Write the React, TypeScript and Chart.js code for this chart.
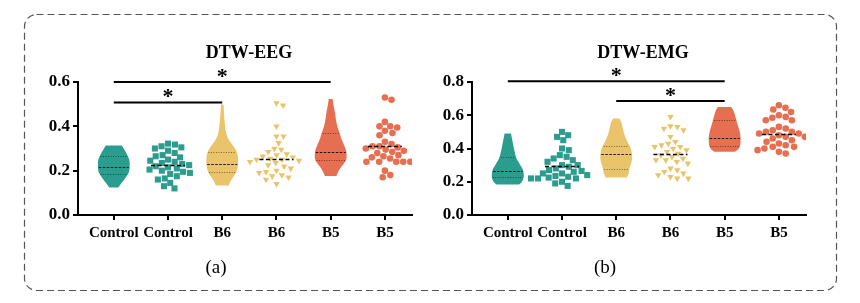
import React, { useEffect, useRef } from "react";
import { Chart, registerables } from "chart.js";
Chart.register(...registerables);

// ---------- data ----------
const categories = ["Control", "Control", "B6", "B6", "B5", "B5"];
const eegTicks = [0, 0.2, 0.4, 0.6];
const emgTicks = [0, 0.2, 0.4, 0.6, 0.8];

// violin density profiles: [value, relative width]
const eegControlViolin = [[0.313, 0.5], [0.3, 0.62], [0.28, 0.78], [0.26, 0.92], [0.245, 0.99], [0.22, 1.0], [0.195, 0.97], [0.175, 0.8], [0.155, 0.6], [0.14, 0.44], [0.124, 0.28]];
const eegB6Violin = [[0.498, 0.08], [0.47, 0.1], [0.43, 0.14], [0.39, 0.19], [0.36, 0.28], [0.34, 0.4], [0.32, 0.6], [0.3, 0.8], [0.285, 0.92], [0.26, 0.99], [0.23, 1.0], [0.2, 0.93], [0.18, 0.78], [0.16, 0.58], [0.145, 0.46], [0.133, 0.4]];
const eegB5Violin = [[0.523, 0.12], [0.5, 0.16], [0.475, 0.24], [0.445, 0.3], [0.415, 0.36], [0.39, 0.46], [0.37, 0.56], [0.345, 0.66], [0.324, 0.78], [0.305, 0.9], [0.285, 0.99], [0.265, 1.0], [0.249, 0.98], [0.235, 0.86], [0.219, 0.68], [0.2, 0.5], [0.176, 0.36]];
const emgControlViolin = [[0.49, 0.2], [0.47, 0.24], [0.44, 0.3], [0.41, 0.36], [0.38, 0.43], [0.35, 0.5], [0.33, 0.6], [0.31, 0.72], [0.29, 0.86], [0.27, 0.96], [0.25, 1.0], [0.225, 1.0], [0.205, 0.93], [0.19, 0.8], [0.184, 0.7]];
const emgB6Violin = [[0.58, 0.2], [0.56, 0.32], [0.53, 0.4], [0.5, 0.46], [0.47, 0.56], [0.44, 0.7], [0.42, 0.82], [0.39, 0.95], [0.36, 1.0], [0.33, 0.99], [0.3, 0.9], [0.28, 0.82], [0.26, 0.8], [0.24, 0.74], [0.226, 0.66]];
const emgB5Violin = [[0.65, 0.42], [0.63, 0.55], [0.6, 0.65], [0.57, 0.73], [0.54, 0.82], [0.51, 0.92], [0.48, 0.99], [0.45, 1.0], [0.42, 0.98], [0.4, 0.9], [0.39, 0.8], [0.38, 0.64]];

// violin quartiles [Q1, median, Q3]
const eegControlQuart = [0.187, 0.217, 0.264];
const eegB6Quart = [0.193, 0.231, 0.284];
const eegB5Quart = [0.246, 0.284, 0.37];
const emgControlQuart = [0.226, 0.262, 0.35];
const emgB6Quart = [0.274, 0.364, 0.415];
const emgB5Quart = [0.418, 0.464, 0.574];

// scatter values
const eegControlPoints = [0.322, 0.318, 0.31, 0.305, 0.3, 0.29, 0.28, 0.27, 0.265, 0.26, 0.25, 0.245, 0.24, 0.235, 0.23, 0.225, 0.22, 0.215, 0.21, 0.205, 0.2, 0.195, 0.19, 0.185, 0.175, 0.165, 0.16, 0.145, 0.13, 0.12];
const eegB6Points = [0.505, 0.495, 0.4, 0.355, 0.355, 0.325, 0.3, 0.295, 0.285, 0.275, 0.27, 0.265, 0.26, 0.255, 0.25, 0.25, 0.245, 0.24, 0.235, 0.225, 0.22, 0.21, 0.2, 0.195, 0.19, 0.18, 0.175, 0.17, 0.16, 0.14];
const eegB5Points = [0.53, 0.52, 0.42, 0.4, 0.4, 0.395, 0.38, 0.37, 0.36, 0.33, 0.32, 0.31, 0.31, 0.305, 0.3, 0.295, 0.29, 0.285, 0.28, 0.27, 0.265, 0.26, 0.255, 0.24, 0.24, 0.24, 0.24, 0.24, 0.2, 0.18, 0.17];
const emgControlPoints = [0.5, 0.48, 0.47, 0.45, 0.4, 0.39, 0.36, 0.35, 0.34, 0.33, 0.32, 0.3, 0.3, 0.29, 0.28, 0.27, 0.265, 0.26, 0.25, 0.25, 0.24, 0.235, 0.23, 0.225, 0.22, 0.22, 0.22, 0.2, 0.19, 0.175];
const emgB6Points = [0.59, 0.535, 0.53, 0.52, 0.51, 0.47, 0.44, 0.43, 0.42, 0.41, 0.41, 0.4, 0.39, 0.38, 0.37, 0.36, 0.35, 0.34, 0.33, 0.33, 0.32, 0.31, 0.28, 0.27, 0.26, 0.25, 0.24, 0.23, 0.22, 0.22];
const emgB5Points = [0.66, 0.645, 0.635, 0.62, 0.6, 0.59, 0.585, 0.57, 0.57, 0.53, 0.52, 0.51, 0.5, 0.5, 0.49, 0.49, 0.48, 0.47, 0.47, 0.46, 0.45, 0.44, 0.43, 0.42, 0.41, 0.41, 0.4, 0.39, 0.38, 0.37];

// scatter centre lines
const eegPointLines = [0.225, 0.252, 0.31];
const emgPointLines = [0.297, 0.367, 0.49];

// significance brackets: [from category, to category, level]
const eegSig = [[0, 4, 0.6], [0, 2, 0.508]];
const emgSig = [[0, 4, 0.804], [2, 4, 0.686]];

// ---------- styling ----------
const TEAL = "#2A9D8F";
const GOLD = "#E9C46A";
const CORAL = "#E76F51";
const SERIF = '"Times New Roman", "Liberation Serif", "DejaVu Serif", serif';
const X_MIN = -0.66;
const X_MAX = 5.5;
const PLOT_W = 334;
const PLOT_H = 133;
const HALF_VIOLIN = 16;

type Violin = { cat: number; profile: number[][]; quart: number[]; color: string };
type Swarm = { cat: number; values: number[]; line: number; color: string; style: string; radius: number; rotation: number };

function beeswarm(values: number[], pxPerUnit: number, d: number): number[] {
  const order = values.map((_, i) => i).sort((a, b) => values[b] - values[a]);
  const placed: { x: number; y: number }[] = [];
  const out = new Array(values.length).fill(0);
  for (const i of order) {
    const y = values[i] * pxPerUnit;
    const cands = [0];
    for (const p of placed) {
      const dy = Math.abs(p.y - y);
      if (dy < d) {
        const dx = Math.sqrt(d * d - dy * dy);
        cands.push(p.x + dx, p.x - dx);
      }
    }
    cands.sort((a, b) => Math.abs(a) - Math.abs(b));
    let chosen = 0;
    for (const c of cands) {
      if (placed.every((p) => (p.x - c) ** 2 + (p.y - y) ** 2 >= d * d - 0.01)) {
        chosen = c;
        break;
      }
    }
    placed.push({ x: chosen, y });
    out[i] = chosen;
  }
  return out;
}

function widthAt(profile: number[][], v: number): number {
  for (let i = 0; i < profile.length - 1; i++) {
    const [a, wa] = profile[i];
    const [b, wb] = profile[i + 1];
    if (v <= a && v >= b) {
      const t = (a - v) / (a - b || 1);
      return wa + (wb - wa) * t;
    }
  }
  return 0;
}

function smoothTo(ctx: CanvasRenderingContext2D, P: { x: number; y: number }[]) {
  for (let i = 1; i < P.length - 1; i++) {
    const mx = (P[i].x + P[i + 1].x) / 2;
    const my = (P[i].y + P[i + 1].y) / 2;
    ctx.quadraticCurveTo(P[i].x, P[i].y, mx, my);
  }
  ctx.lineTo(P[P.length - 1].x, P[P.length - 1].y);
}

function makeDecor(cfg: any) {
  return {
    id: "decor",
    beforeDatasetsDraw(chart: any) {
      const ctx: CanvasRenderingContext2D = chart.ctx;
      const xs = chart.scales.x;
      const ys = chart.scales.y;
      const area = chart.chartArea;
      ctx.save();
      for (const v of cfg.violins as Violin[]) {
        const cx = xs.getPixelForValue(v.cat);
        const pts = v.profile.map(([val, w]) => ({ y: ys.getPixelForValue(val), w: w * HALF_VIOLIN }));
        const right = pts.map((p) => ({ x: cx + p.w, y: p.y }));
        const left = pts.map((p) => ({ x: cx - p.w, y: p.y })).reverse();
        ctx.beginPath();
        ctx.moveTo(left[left.length - 1].x, left[left.length - 1].y);
        ctx.lineTo(right[0].x, right[0].y);
        smoothTo(ctx, right);
        ctx.lineTo(left[0].x, left[0].y);
        smoothTo(ctx, left);
        ctx.closePath();
        ctx.fillStyle = v.color;
        ctx.fill();
        v.quart.forEach((q, qi) => {
          const w = widthAt(v.profile, q) * HALF_VIOLIN - 1;
          const y = Math.round(ys.getPixelForValue(q)) + 0.5;
          ctx.beginPath();
          ctx.moveTo(cx - w, y);
          ctx.lineTo(cx + w, y);
          if (qi === 1) {
            ctx.setLineDash([2.5, 1.5]);
            ctx.strokeStyle = "rgba(0,0,0,0.85)";
          } else {
            ctx.setLineDash([1, 1.5]);
            ctx.strokeStyle = "rgba(0,0,0,0.5)";
          }
          ctx.lineWidth = 1;
          ctx.stroke();
        });
      }
      ctx.setLineDash([]);
      for (const [a, b, lvl] of cfg.sig as number[][]) {
        const x1 = xs.getPixelForValue(a);
        const x2 = xs.getPixelForValue(b);
        const y = ys.getPixelForValue(lvl);
        ctx.beginPath();
        ctx.moveTo(x1, y);
        ctx.lineTo(x2, y);
        ctx.lineWidth = 2;
        ctx.strokeStyle = "#000";
        ctx.stroke();
        ctx.fillStyle = "#000";
        ctx.font = `bold 22px ${SERIF}`;
        ctx.textAlign = "center";
        ctx.textBaseline = "alphabetic";
        ctx.fillText("*", (x1 + x2) / 2, y + 1);
      }
      ctx.fillStyle = "#000";
      ctx.font = `bold 18px ${SERIF}`;
      ctx.textAlign = "center";
      ctx.textBaseline = "middle";
      ctx.fillText(cfg.title, (area.left + area.right) / 2 + 4, area.top - 29);
      ctx.font = `19px ${SERIF}`;
      ctx.fillText(cfg.caption, cfg.captionX, area.bottom + 53);
      ctx.restore();
    },
    afterDatasetsDraw(chart: any) {
      const ctx: CanvasRenderingContext2D = chart.ctx;
      const xs = chart.scales.x;
      const ys = chart.scales.y;
      ctx.save();
      for (const s of cfg.swarms as Swarm[]) {
        const cx = xs.getPixelForValue(s.cat);
        const y = Math.round(ys.getPixelForValue(s.line)) + 0.5;
        ctx.beginPath();
        ctx.moveTo(cx - 17, y);
        ctx.lineTo(cx + 17, y);
        ctx.setLineDash([4, 2.5]);
        ctx.lineWidth = 1.6;
        ctx.strokeStyle = "#000";
        ctx.stroke();
      }
      ctx.restore();
    },
  };
}

function buildChart(canvas: HTMLCanvasElement, cfg: any) {
  const pxPerUnit = PLOT_H / cfg.yMax;
  const pxPerCat = PLOT_W / (X_MAX - X_MIN);
  const datasets = (cfg.swarms as Swarm[]).map((s) => {
    const offs = beeswarm(s.values, pxPerUnit, 7.0);
    return {
      type: "scatter",
      data: s.values.map((v, i) => ({ x: s.cat + offs[i] / pxPerCat, y: v })),
      pointStyle: s.style,
      pointRadius: s.radius,
      pointRotation: s.rotation,
      backgroundColor: s.color,
      borderWidth: 0,
      pointBorderWidth: 0,
      pointHoverRadius: s.radius,
    };
  });
  const xFont = { family: SERIF, size: 15, weight: "bold" as const };
  const yFont = { family: SERIF, size: 17, weight: "bold" as const };
  return new Chart(canvas, {
    type: "scatter",
    data: { datasets: datasets as any },
    options: {
      responsive: false,
      animation: false,
      devicePixelRatio: 1,
      layout: { padding: { top: 52, left: 0, right: cfg.padRight, bottom: 35 } },
      plugins: { legend: { display: false }, tooltip: { enabled: false }, title: { display: false } },
      scales: {
        x: {
          type: "linear",
          min: X_MIN,
          max: X_MAX,
          afterBuildTicks: (s: any) => {
            s.ticks = categories.map((_, i) => ({ value: i }));
          },
          afterFit: (s: any) => {
            s.height = 35;
          },
          ticks: {
            autoSkip: false,
            maxRotation: 0,
            padding: 4,
            color: "#000",
            font: xFont,
            callback: (v: any) => categories[Math.round(Number(v))] ?? "",
          },
          grid: { drawOnChartArea: false, drawTicks: true, tickLength: 5, color: "#000", lineWidth: 2 },
          border: { display: true, color: "#000", width: 2 },
        },
        y: {
          type: "linear",
          min: 0,
          max: cfg.yMax,
          afterBuildTicks: (s: any) => {
            s.ticks = (cfg.yTicks as number[]).map((v) => ({ value: v }));
          },
          afterFit: (s: any) => {
            s.width = 48;
          },
          ticks: {
            padding: 3,
            color: "#000",
            font: yFont,
            callback: (v: any) => Number(v).toFixed(1),
          },
          grid: { drawOnChartArea: false, drawTicks: true, tickLength: 5, color: "#000", lineWidth: 2 },
          border: { display: true, color: "#000", width: 2 },
        },
      },
    },
    plugins: [makeDecor(cfg) as any],
  });
}

const eegConfig = {
  title: "DTW-EEG",
  caption: "(a)",
  captionX: 186,
  yMax: 0.6,
  yTicks: eegTicks,
  padRight: 8,
  sig: eegSig,
  violins: [
    { cat: 0, profile: eegControlViolin, quart: eegControlQuart, color: TEAL },
    { cat: 2, profile: eegB6Violin, quart: eegB6Quart, color: GOLD },
    { cat: 4, profile: eegB5Violin, quart: eegB5Quart, color: CORAL },
  ],
  swarms: [
    { cat: 1, values: eegControlPoints, line: eegPointLines[0], color: TEAL, style: "rect", radius: 4.3, rotation: 0 },
    { cat: 3, values: eegB6Points, line: eegPointLines[1], color: GOLD, style: "triangle", radius: 3.7, rotation: 180 },
    { cat: 5, values: eegB5Points, line: eegPointLines[2], color: CORAL, style: "circle", radius: 3.3, rotation: 0 },
  ],
};

const emgConfig = {
  title: "DTW-EMG",
  caption: "(b)",
  captionX: 181,
  yMax: 0.8,
  yTicks: emgTicks,
  padRight: 18,
  sig: emgSig,
  violins: [
    { cat: 0, profile: emgControlViolin, quart: emgControlQuart, color: TEAL },
    { cat: 2, profile: emgB6Violin, quart: emgB6Quart, color: GOLD },
    { cat: 4, profile: emgB5Violin, quart: emgB5Quart, color: CORAL },
  ],
  swarms: [
    { cat: 1, values: emgControlPoints, line: emgPointLines[0], color: TEAL, style: "rect", radius: 4.3, rotation: 0 },
    { cat: 3, values: emgB6Points, line: emgPointLines[1], color: GOLD, style: "triangle", radius: 3.7, rotation: 180 },
    { cat: 5, values: emgB5Points, line: emgPointLines[2], color: CORAL, style: "circle", radius: 3.3, rotation: 0 },
  ],
};

export default function App() {
  const frameRef = useRef<HTMLCanvasElement>(null);
  const leftRef = useRef<HTMLCanvasElement>(null);
  const rightRef = useRef<HTMLCanvasElement>(null);

  useEffect(() => {
    const f = frameRef.current!;
    const ctx = f.getContext("2d")!;
    ctx.clearRect(0, 0, f.width, f.height);
    ctx.beginPath();
    (ctx as any).roundRect(16.5, 6.5, 812, 276, 12);
    ctx.setLineDash([7, 4]);
    ctx.lineWidth = 1.2;
    ctx.strokeStyle = "#555";
    ctx.stroke();

    const c1 = buildChart(leftRef.current!, eegConfig);
    const c2 = buildChart(rightRef.current!, emgConfig);
    return () => {
      c1.destroy();
      c2.destroy();
    };
  }, []);

  return (
    <div style={{ position: "relative", width: 844, height: 287 }}>
      <canvas ref={frameRef} width={844} height={287} style={{ position: "absolute", left: 0, top: 0 }} />
      <canvas ref={leftRef} width={390} height={255} style={{ position: "absolute", left: 22, top: 22, width: 390, height: 255 }} />
      <canvas ref={rightRef} width={400} height={255} style={{ position: "absolute", left: 416, top: 22, width: 400, height: 255 }} />
    </div>
  );
}
